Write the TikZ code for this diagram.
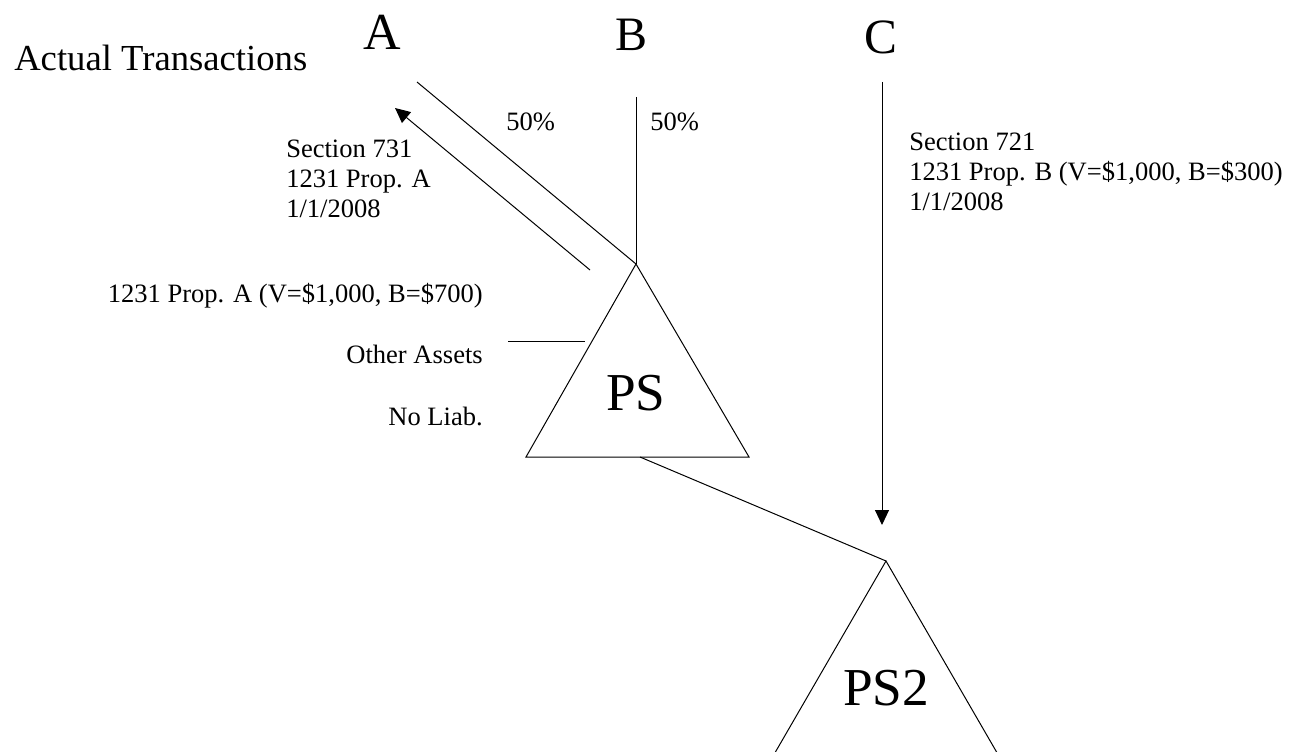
\documentclass[tikz,border=0pt]{standalone}
\usepackage{fontspec}
\setmainfont{Liberation Serif}
\usetikzlibrary{arrows.meta}
\begin{document}
\begin{tikzpicture}[x=0.75pt,y=-0.75pt,
  lbl/.style={inner sep=0pt, font=\fontsize{19.9}{22.5}\selectfont},
  party/.style={inner sep=0pt, anchor=base, font=\fontsize{#1}{40}\selectfont},
  entity/.style={inner sep=0pt, anchor=base, font=\fontsize{40}{44}\selectfont},
  link/.style={line width=0.75pt},
  flow/.style={line width=0.75pt, -{Triangle[length=11.25pt,width=10.5pt]}},
  tri/.style={line width=0.75pt, line join=miter}
]
\useasboundingbox (0,0) rectangle (1292,752);
\clip (0,0) rectangle (1292,752);

% heading and partners
\node[inner sep=0pt, anchor=base west, font=\fontsize{27.5}{30}\selectfont] (title) at (14,71) {Actual Transactions};
\node[party=39] (A) at (382,50) {A};
\node[party=36] (B) at (632,51) {B};
\node[party=37] (C) at (881,54) {C};

% partnership triangles
\coordinate (psTop) at (636,264);
\coordinate (psL) at (526,457);
\coordinate (psR) at (749,457);
\coordinate (psBase) at (640,457);
\coordinate (ps2Top) at (886,561);
\coordinate (ps2L) at (765,770);
\coordinate (ps2R) at (1007,770);
\draw[tri] (psTop) -- (psL) -- (psR) -- cycle;
\draw[tri] (ps2Top) -- (ps2L) -- (ps2R) -- cycle;
\node[entity] (PS) at (636,410) {PS};
\node[entity] (PS2) at (886,705) {PS2};

% ownership lines
\coordinate (aOwn) at (417,82);
\coordinate (bOwn) at (636,97);
\draw[link] (aOwn) -- (psTop);
\draw[link] (bOwn) -- (psTop);
\node[lbl, anchor=base west] (pctA) at (506,131) {50\%};
\node[lbl, anchor=base west] (pctB) at (650,131) {50\%};

% distribution to A
\coordinate (distFrom) at (590,270);
\coordinate (distTo) at (395,108);
\draw[flow] (distFrom) -- (distTo);
\node[lbl, anchor=base west] (s731a) at (286,158) {Section 731};
\node[lbl, anchor=base west] (s731b) at (286,188) {1231 Prop. A};
\node[lbl, anchor=base west] (s731c) at (286,218) {1/1/2008};

% contribution by C
\coordinate (cFrom) at (882,82);
\coordinate (cTo) at (882,525);
\draw[flow] (cFrom) -- (cTo);
\node[lbl, anchor=base west] (s721a) at (909,151) {Section 721};
\node[lbl, anchor=base west] (s721b) at (909,181) {1231 Prop. B (V=\$1,000, B=\$300)};
\node[lbl, anchor=base west] (s721c) at (909,211) {1/1/2008};

% PS balance sheet
\node[lbl, anchor=base east] (assetA) at (483,302) {1231 Prop. A (V=\$1,000, B=\$700)};
\node[lbl, anchor=base east] (other) at (483,363) {Other Assets};
\node[lbl, anchor=base east] (liab) at (483,425) {No Liab.};
\coordinate (tickL) at (508,341);
\coordinate (tickR) at (585,341);
\draw[link] (tickL) -- (tickR);

% PS owns PS2
\draw[link] (psBase) -- (ps2Top);
\end{tikzpicture}
\end{document}
